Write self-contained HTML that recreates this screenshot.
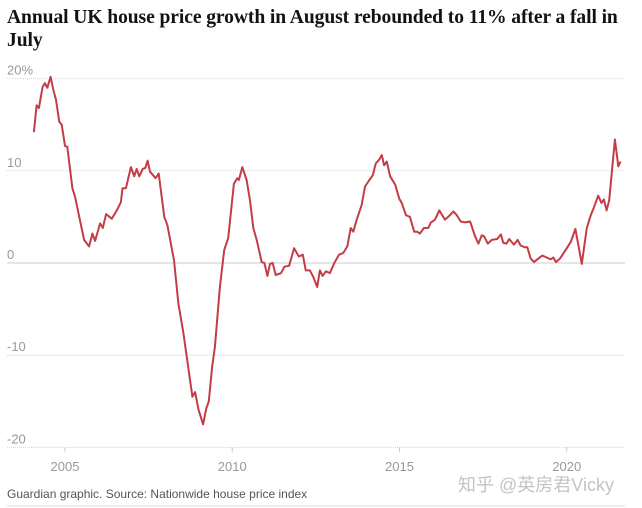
<!DOCTYPE html>
<html><head><meta charset="utf-8"><style>
body{margin:0;background:#fff;width:642px;height:508px;overflow:hidden;font-family:"Liberation Sans",sans-serif}
#title{position:absolute;left:7px;top:6px;width:625px;font:bold 19.6px/23px "Liberation Serif",serif;color:#121212;letter-spacing:-0.1px}
#src{position:absolute;left:7px;top:487px;font-size:12px;color:#555}
#wm{position:absolute;left:458px;top:471px;font:18px "Liberation Sans","Noto Sans CJK SC",sans-serif;color:#c4c4c4}
</style></head><body>
<div id="title">Annual UK house price growth in August rebounded to 11% after a fall in July</div>
<svg id="chart" width="642" height="508" style="position:absolute;left:0;top:0"></svg>
<div id="src">Guardian graphic. Source: Nationwide house price index</div>
<div id="wm">知乎 @英房君Vicky</div>
<script>
const yTicks=[20,10,0,-10,-20];
const yTickLabels=["20%","10","0","-10","-20"];
const xTicks=[2005,2010,2015,2020];
const dates=[2004.07,2004.15,2004.22,2004.33,2004.40,2004.47,2004.57,2004.65,2004.73,2004.83,2004.90,2005.0,2005.07,2005.22,2005.30,2005.57,2005.72,2005.82,2005.90,2006.05,2006.13,2006.23,2006.40,2006.55,2006.67,2006.72,2006.82,2006.97,2007.07,2007.14,2007.22,2007.32,2007.40,2007.47,2007.54,2007.71,2007.80,2007.97,2008.06,2008.26,2008.39,2008.54,2008.81,2008.89,2008.99,2009.13,2009.22,2009.30,2009.40,2009.48,2009.63,2009.76,2009.88,2010.05,2010.15,2010.20,2010.30,2010.43,2010.53,2010.63,2010.73,2010.88,2010.96,2011.05,2011.13,2011.21,2011.30,2011.46,2011.56,2011.70,2011.85,2011.99,2012.11,2012.20,2012.32,2012.42,2012.54,2012.62,2012.70,2012.80,2012.92,2013.05,2013.19,2013.32,2013.44,2013.54,2013.62,2013.72,2013.87,2013.97,2014.10,2014.20,2014.29,2014.39,2014.47,2014.54,2014.62,2014.72,2014.87,2014.99,2015.07,2015.19,2015.31,2015.44,2015.53,2015.61,2015.73,2015.86,2015.94,2016.06,2016.19,2016.36,2016.51,2016.61,2016.71,2016.83,2016.96,2017.11,2017.26,2017.36,2017.46,2017.53,2017.64,2017.76,2017.92,2018.03,2018.10,2018.20,2018.28,2018.42,2018.53,2018.62,2018.75,2018.82,2018.92,2019.02,2019.12,2019.27,2019.40,2019.52,2019.60,2019.68,2019.80,2020.00,2020.12,2020.26,2020.45,2020.60,2020.72,2020.81,2020.94,2021.04,2021.11,2021.19,2021.27,2021.44,2021.54,2021.61];
const growth=[14.2,17.1,16.8,19.1,19.5,19.0,20.2,18.8,17.7,15.3,15.0,12.7,12.6,8.1,7.2,2.5,1.8,3.2,2.4,4.3,3.8,5.3,4.8,5.7,6.6,8.1,8.1,10.4,9.4,10.2,9.4,10.2,10.3,11.1,9.9,9.2,9.7,5.0,4.1,0.3,-4.4,-7.6,-14.5,-14.0,-15.9,-17.5,-15.8,-15.0,-11.2,-9.1,-2.6,1.4,2.7,8.6,9.2,9.0,10.4,9.0,6.8,3.8,2.5,0.1,0,-1.4,-0.1,0.0,-1.3,-1.1,-0.4,-0.3,1.6,0.7,0.9,-0.8,-0.8,-1.5,-2.6,-0.8,-1.4,-0.9,-1.1,0,0.9,1.1,1.8,3.8,3.4,4.7,6.3,8.3,9.0,9.5,10.8,11.2,11.7,10.6,11.0,9.4,8.5,7.0,6.5,5.2,5.0,3.4,3.4,3.2,3.8,3.8,4.4,4.7,5.7,4.7,5.2,5.6,5.2,4.5,4.4,4.5,2.9,2.1,3.0,2.9,2.1,2.5,2.6,3.1,2.2,2.1,2.6,2.0,2.5,1.9,1.7,1.7,0.5,0.1,0.4,0.8,0.6,0.4,0.6,0.1,0.5,1.6,2.3,3.7,-0.1,3.8,5.2,6.0,7.3,6.5,6.9,5.7,6.8,13.4,10.5,11.0];
const NS='http://www.w3.org/2000/svg';
const svg=document.getElementById('chart');
const X=d=>65+(d-2005)*33.45;
const Y=v=>263-v*9.22;
function mk(t,a){const e=document.createElementNS(NS,t);for(const k in a)e.setAttribute(k,a[k]);svg.appendChild(e);return e;}
yTicks.forEach((t,i)=>{
  const g=mk('line',{x1:7,x2:625,y1:Y(t),y2:Y(t),stroke:t===0?'#ccc':'#d6d6d6','stroke-dasharray':t===0?'':'1,1','stroke-width':1});
  
  
  const l=mk('text',{x:7,y:Y(t)-4,fill:'#999','font-size':13,'font-family':'Liberation Sans, sans-serif'});
  l.textContent=yTickLabels[i];
  
  
});
xTicks.forEach(t=>{
  const k=mk('line',{x1:X(t),x2:X(t),y1:Y(-20),y2:Y(-20)+5,stroke:'#ccc'});
  
  
  const l=mk('text',{x:X(t),y:471,fill:'#999','font-size':13,'text-anchor':'middle','font-family':'Liberation Sans, sans-serif'});
  l.textContent=t;
  
  
});
const p=mk('path',{d:dates.map((d,i)=>(i?'L':'M')+X(d).toFixed(1)+','+Y(growth[i]).toFixed(1)).join(''),fill:'none',stroke:'#c43c45','stroke-width':2,'stroke-linejoin':'round'});


const b=mk('line',{x1:7,x2:625,y1:506,y2:506,stroke:'#ddd'});


</script>
</body></html>
